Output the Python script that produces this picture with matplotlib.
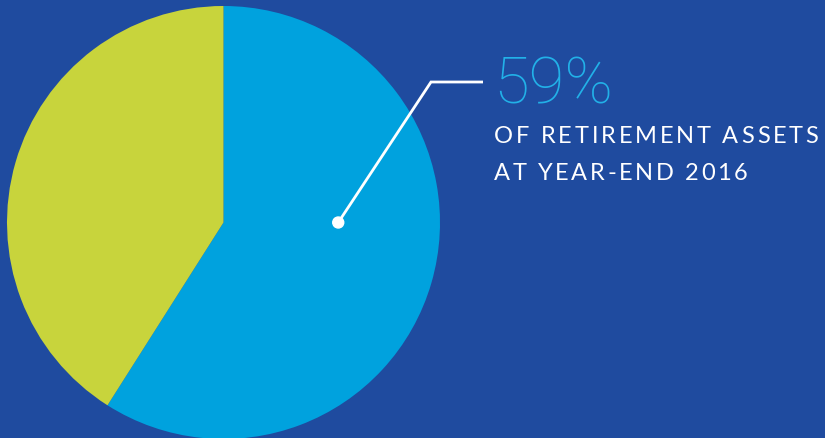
import matplotlib
matplotlib.use("Agg")
import matplotlib.pyplot as plt
from matplotlib.patches import Circle

# Share of retirement assets
labels = ["Share", "Other"]
shares = [59, 41]
headline = "59%"
caption_lines = ["OF RETIREMENT ASSETS", "AT YEAR-END 2016"]

BG = "#1f4b9f"
BLUE = "#00a2de"
GREEN = "#c8d43c"
HEAD = "#22b1e8"

W, H = 825, 438
fig = plt.figure(figsize=(W / 100, H / 100), dpi=100, facecolor=BG)
ax = fig.add_axes([0, 0, 1, 1])
ax.set_facecolor(BG)

cx, cy, R = 223.5, H - 222.5, 216.5
ax.pie(shares, colors=[BLUE, GREEN], startangle=90, counterclock=False,
       center=(cx, cy), radius=R, frame=True,
       wedgeprops=dict(linewidth=0))
ax.set_xlim(0, W)
ax.set_ylim(0, H)
ax.set_aspect("equal")
ax.axis("off")

# leader line from the blue wedge to the headline
dot = (cx + 0.53 * R, cy)
ax.plot([dot[0], 431, 483], [dot[1], H - 82, H - 82], color="white", lw=2,
        solid_capstyle="butt", solid_joinstyle="miter", zorder=3)
ax.add_patch(Circle(dot, 5.5, color="white", zorder=4))

fig.canvas.draw()
renderer = fig.canvas.get_renderer()


def spaced_text(x, y, s, tracking, **kw):
    """Draw s one glyph at a time with extra spacing (pixels)."""
    probe = ax.text(0, 0, "a a", **kw)
    probe2 = ax.text(0, 0, "aa", **kw)
    space_w = (probe.get_window_extent(renderer=renderer).width
               - probe2.get_window_extent(renderer=renderer).width)
    probe.remove()
    probe2.remove()
    for ch in s:
        if ch == " ":
            w = space_w
        else:
            t = ax.text(x, y, ch, **kw)
            w = t.get_window_extent(renderer=renderer).width
        x += w + tracking


ax.text(493, H - 104, headline, color=HEAD, fontsize=47, va="baseline",
        ha="left", family="Roboto", fontweight="light")
cap = dict(color="white", fontsize=17, va="baseline", ha="left",
           family="Lato", fontweight="normal")
spaced_text(494, H - 143, caption_lines[0], 2.8, **cap)
spaced_text(494, H - 180, caption_lines[1], 2.6, **cap)

fig.savefig("out.png", dpi=100, facecolor=BG)
